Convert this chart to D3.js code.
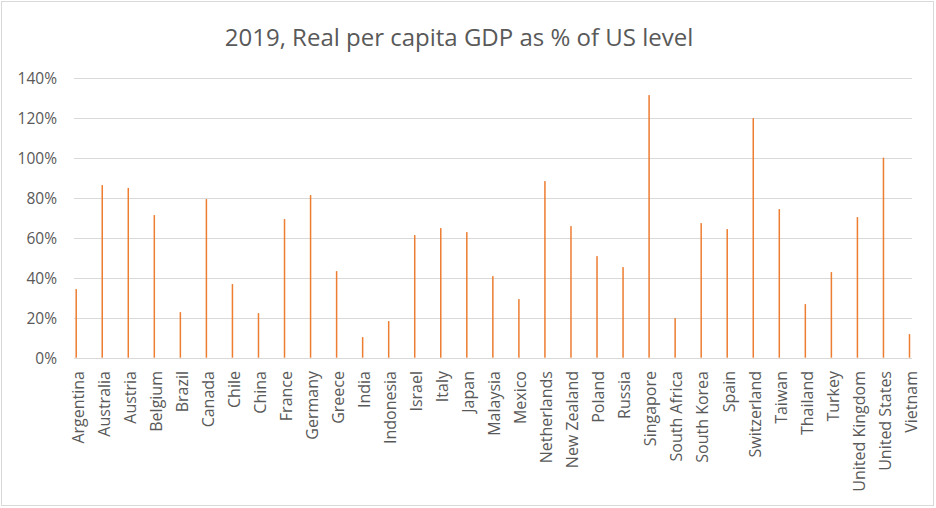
<!DOCTYPE html>
<html><head><meta charset="utf-8">
<script src="https://cdn.jsdelivr.net/npm/d3@7"></script>
<style>body{margin:0;background:#fff;} svg{display:block;font-family:"Open Sans",sans-serif;}</style>
</head><body>
<svg id="c" width="936" height="508"></svg>
<script>
const title = "2019, Real per capita GDP as % of US level";
const countries = ["Argentina","Australia","Austria","Belgium","Brazil","Canada","Chile","China","France","Germany","Greece","India","Indonesia","Israel","Italy","Japan","Malaysia","Mexico","Netherlands","New Zealand","Poland","Russia","Singapore","South Africa","South Korea","Spain","Switzerland","Taiwan","Thailand","Turkey","United Kingdom","United States","Vietnam"];
const values = [34.3,86.3,84.9,71.3,22.8,79.3,36.8,22.3,69.3,81.3,43.3,10.3,18.3,61.3,64.8,62.8,40.8,29.3,88.3,65.8,50.8,45.3,131.3,19.8,67.3,64.3,119.8,74.3,26.8,42.8,70.3,100,11.8];
const yTicks = [0,20,40,60,80,100,120,140];

const svg = d3.select("#c");
const textColor = "#595959", gridColor = "#d9d9d9", barColor = "#ED7D31";

svg.append("rect").attr("x",1.5).attr("y",1.5).attr("width",932).attr("height",504)
  .attr("fill","#fff").attr("stroke","#d9d9d9").attr("stroke-width",1);

const plotL = 74, plotR = 912;
const y = d3.scaleLinear().domain([0,140]).range([357.7,77.7]);
const x = d3.scalePoint().domain(countries).range([76.2, 909.5]);

svg.append("text").attr("x",459).attr("y",46).attr("text-anchor","middle")
  .attr("fill",textColor).attr("font-size",24).text(title);

// gridlines
svg.append("g").selectAll("line").data(yTicks).join("line")
  .attr("x1",plotL).attr("x2",plotR)
  .attr("y1",d=>Math.round(y(d))+0.5).attr("y2",d=>Math.round(y(d))+0.5)
  .attr("stroke",gridColor).attr("stroke-width",1);

// y axis labels
const yAxis = d3.axisLeft(y).tickValues(yTicks).tickFormat(d=>d+"%").tickSize(0).tickPadding(0);
const gy = svg.append("g").attr("transform","translate(57,0)").call(yAxis);
gy.select(".domain").remove();
gy.selectAll("text").attr("fill",textColor).attr("font-size",15.5).attr("font-family","'Open Sans',sans-serif").attr("dy","0.35em");

// bars
svg.append("g").selectAll("rect").data(values).join("rect")
  .attr("x",(d,i)=>x(countries[i])-0.75).attr("width",1.5)
  .attr("y",d=>y(d)).attr("height",d=>y(0)-y(d))
  .attr("fill",barColor);

// x labels
const xAxis = d3.axisBottom(x).tickSize(0).tickPadding(0);
const gx = svg.append("g").attr("transform","translate(1.2,371)").call(xAxis);
gx.select(".domain").remove();
gx.selectAll("text").attr("fill",textColor).attr("font-size",16).attr("font-family","'Open Sans',sans-serif")
  .attr("transform","rotate(-90)").attr("text-anchor","end").attr("x",0).attr("y",0).attr("dy","0.35em");
</script>
</body></html>
